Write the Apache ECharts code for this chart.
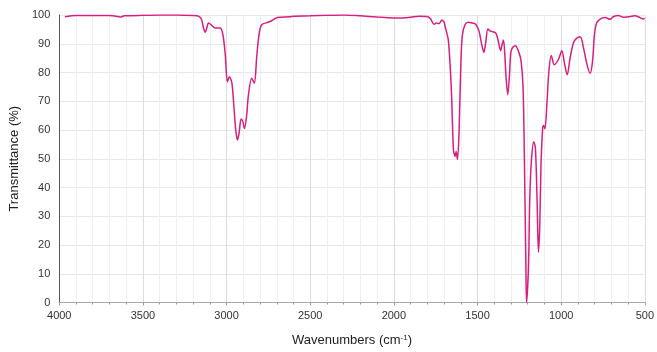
<!DOCTYPE html>
<html>
<head>
<meta charset="utf-8">
<script src="https://cdn.jsdelivr.net/npm/echarts@6/dist/echarts.min.js"></script>
<style>
html,body{margin:0;padding:0;background:#fff;}
#chart{width:657px;height:352px;}
</style>
</head>
<body>
<div id="chart"></div>
<script>
const wavenumbers = [3966,3900,3800,3700,3660,3637,3610,3500,3400,3300,3200,3165,3150,3138,3127,3118,3108,3090,3068,3038,3022,3008,2995,2983,2968,2955,2945,2935,2925,2913,2903,2893,2880,2870,2850,2834,2820,2806,2790,2751,2730,2697,2622,2600,2500,2400,2300,2200,2100,2000,1950,1900,1850,1800,1780,1770,1759,1745,1730,1713,1700,1694,1674,1656,1644,1634,1628,1620,1610,1600,1591,1575,1555,1530,1511,1491,1475,1462,1451,1438,1422,1392,1378,1362,1353,1345,1337,1329,1319,1309,1301,1290,1273,1253,1240,1228,1219,1211,1207,1195,1188,1178,1164,1154,1144,1136,1128,1121,1111,1105,1097,1085,1073,1059,1041,1015,996,980,964,946,926,910,886,867,847,827,813,801,788,767,738,708,688,658,629,599,559,529,510,500];
const transmittance = [99.4,99.8,99.8,99.8,99.6,99.3,99.7,99.9,100,100,99.8,99.5,98.5,95.5,94.0,95.5,97.2,96.5,95.5,95.5,93.2,86.4,76.8,78.5,76.3,67.2,60,56.5,59,63.8,63,60.5,65,71.8,78,76.3,85.3,93.2,96.6,97.5,98.0,99.1,99.4,99.6,99.7,99.9,100,99.7,99.3,99.0,99.0,99.2,99.6,99.5,98.6,97.5,96.8,97.2,97.0,98.3,97.5,96.1,91,73.4,53.2,50.8,52.5,49.7,59.9,82.5,92.7,96.6,97.5,97.2,96.8,94.4,89.8,87.0,90.4,95.1,94.4,93.8,91.5,87.6,89.8,91.3,86.4,78,72.3,79.1,87,88.7,89.3,87.0,84.2,75.1,46.9,13.0,0,13,35.6,49.2,55.9,53.7,35.6,17.5,26.5,46.9,60.4,61.6,60.4,69.5,80.8,85.9,82.7,84.7,87.6,83.1,79.2,85.3,90.4,91.8,92.4,88.7,83.1,79.7,83.6,93.2,97.2,98.6,99.1,98.5,99.4,99.8,99.2,99.4,99.7,99.1,98.6,98.8];
const xTitle = 'Wavenumbers (cm{sup|-1})';
const yTitle = 'Transmittance (%)';

const chart = echarts.init(document.getElementById('chart'));
const font = '"Liberation Sans", Arial, sans-serif';
chart.setOption({
  animation: false,
  backgroundColor: '#fff',
  grid: {left: 58, right: 10, top: 15, bottom: 42, containLabel: false},
  xAxis: {
    type: 'value', inverse: true, min: 500, max: 4000, interval: 500,
    name: xTitle, nameLocation: 'middle', nameGap: 31,
    nameTextStyle: {fontFamily: font, fontSize: 13, color: '#222',
      rich: {sup: {fontSize: 8, verticalAlign: 'top', padding: [0,0,6,0], color: '#222', fontFamily: font}}},
    axisLine: {show: true, lineStyle: {color: '#aaa', width: 1}},
    axisTick: {show: true, length: 3, lineStyle: {color: '#999'}},
    minorTick: {show: true, splitNumber: 5, length: 2, lineStyle: {color: '#999'}},
    axisLabel: {fontFamily: font, fontSize: 11, color: '#333', margin: 8, formatter: v => String(v)},
    splitLine: {show: true, lineStyle: {color: '#ddd', width: 1}},
    minorSplitLine: {show: true, lineStyle: {color: '#f0f0f0', width: 1}}
  },
  yAxis: {
    type: 'value', min: 0, max: 100, interval: 10,
    name: yTitle, nameLocation: 'middle', nameGap: 34,
    nameTextStyle: {fontFamily: font, fontSize: 13, color: '#222'},
    axisLine: {show: true, lineStyle: {color: '#555', width: 1}},
    axisTick: {show: false},
    axisLabel: {fontFamily: font, fontSize: 11, color: '#333', margin: 9, formatter: v => String(v)},
    splitLine: {show: true, lineStyle: {color: '#e8e8e8', width: 1}}
  },
  series: [{
    type: 'line',
    data: wavenumbers.map((w, i) => [w, transmittance[i]]),
    showSymbol: false,
    smooth: 0.3,
    lineStyle: {color: '#d81f7d', width: 1.5},
    z: 5
  }]
});
</script>
</body>
</html>
